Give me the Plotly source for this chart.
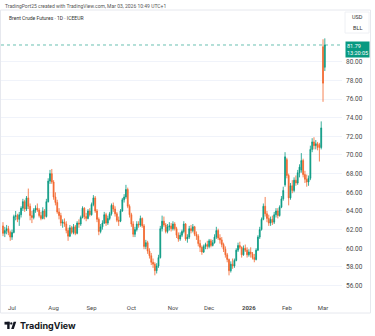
import pandas as pd
import plotly.graph_objects as go

# ---------------- data ----------------
dates = [d.strftime("%Y-%m-%d") for d in pd.bdate_range("2025-06-24", "2026-03-03")
         if d.strftime("%m-%d") not in ("12-25", "01-01")]

opens = [62.4, 61.6, 61.9, 62.1, 61.7, 61.2, 61.7, 63.4, 63.5, 63.1,
         63.6, 64.3, 65.0, 64.2, 65.4, 64.5, 63.5, 63.3, 64.1, 64.3,
         64.1, 63.5, 63.2, 64.0, 63.4, 65.0, 67.2, 68.0, 67.1, 65.5,
         64.9, 63.9, 63.5, 62.7, 62.8, 62.6, 61.9, 61.3, 62.2, 61.7,
         62.3, 61.6, 62.7, 62.6, 63.3, 64.3, 63.4, 63.2, 64.0, 63.6,
         64.7, 65.4, 64.0, 63.1, 61.8, 62.3, 62.7, 63.6, 62.7, 63.2,
         63.7, 64.6, 64.2, 63.7, 63.0, 62.9, 64.0, 65.2, 65.5, 66.3,
         64.5, 63.6, 62.6, 61.5, 62.0, 62.6, 62.5, 63.2, 62.4, 60.2,
         60.6, 59.7, 59.2, 58.5, 58.3, 57.6, 58.1, 59.0, 62.1, 62.9,
         62.5, 61.8, 62.3, 62.4, 62.1, 62.6, 62.1, 61.4, 61.0, 61.4,
         61.8, 62.6, 61.0, 61.2, 62.1, 61.9, 62.3, 61.5, 61.3, 60.5,
         60.1, 59.6, 60.2, 60.4, 60.2, 60.8, 60.3, 60.6, 61.2, 61.9,
         61.1, 60.9, 60.4, 59.9, 59.3, 58.8, 57.6, 58.3, 58.1, 58.7,
         59.8, 60.3, 60.1, 59.3, 60.0, 59.8, 59.3, 59.6, 59.4, 59.0,
         58.8, 59.8, 61.2, 62.0, 63.1, 64.5, 63.7, 63.2, 62.7, 63.1,
         62.8, 63.6, 64.0, 63.5, 64.4, 65.3, 66.8, 69.5, 67.8, 65.4,
         66.7, 66.2, 67.3, 67.0, 68.1, 68.4, 69.4, 67.9, 67.4, 67.1,
         67.5, 70.6, 71.4, 71.0, 71.2, 71.1, 70.8, 81.6, 79.4]

highs = [62.8, 62.3, 62.5, 62.4, 61.9, 62.0, 63.6, 64.0, 63.7, 63.9,
         64.5, 65.3, 65.2, 65.6, 66.4, 64.8, 64.0, 64.3, 64.6, 64.8,
         64.3, 63.9, 64.4, 64.2, 65.3, 67.5, 68.4, 68.5, 67.3, 66.0,
         65.2, 64.3, 63.8, 63.1, 63.2, 62.9, 62.2, 62.5, 62.4, 62.6,
         62.5, 62.9, 63.1, 63.5, 64.5, 64.4, 63.8, 64.2, 64.3, 64.9,
         65.7, 65.6, 64.2, 63.3, 62.6, 63.0, 63.9, 63.8, 63.5, 63.9,
         64.8, 64.9, 64.5, 63.9, 63.4, 64.2, 65.4, 65.8, 66.8, 66.5,
         64.7, 63.8, 62.9, 62.3, 62.9, 62.9, 63.5, 63.3, 62.6, 60.9,
         60.8, 60.0, 59.5, 58.9, 58.5, 58.4, 59.3, 62.4, 63.5, 63.4,
         62.7, 62.6, 62.8, 62.7, 62.9, 62.8, 62.3, 61.7, 61.7, 62.0,
         62.9, 62.7, 61.5, 62.4, 62.5, 62.6, 62.4, 61.8, 61.5, 60.9,
         60.3, 60.4, 60.6, 60.8, 61.0, 61.0, 60.9, 61.5, 62.3, 62.1,
         61.5, 61.2, 60.6, 60.2, 59.5, 58.9, 58.6, 58.9, 58.9, 60.0,
         60.6, 60.7, 60.2, 60.3, 60.4, 60.1, 59.9, 60.1, 59.6, 59.4,
         60.0, 61.4, 62.3, 63.3, 64.8, 65.5, 64.0, 63.6, 63.4, 63.5,
         63.9, 64.3, 64.3, 64.6, 65.6, 66.6, 70.3, 69.7, 68.0, 67.0,
         67.3, 67.6, 67.8, 68.4, 69.0, 70.2, 69.6, 68.3, 67.9, 67.8,
         71.0, 71.8, 71.9, 71.6, 71.4, 71.3, 73.6, 82.4, 82.5]

lows = [61.3, 61.2, 61.5, 61.4, 60.8, 60.9, 61.6, 63.0, 62.8, 62.4,
        63.3, 64.0, 63.9, 64.0, 64.2, 63.0, 62.7, 63.1, 63.8, 63.9,
        63.3, 63.0, 63.1, 63.1, 63.3, 64.9, 66.9, 66.9, 65.2, 64.6,
        63.7, 63.1, 62.4, 62.2, 62.3, 61.6, 60.8, 61.2, 61.5, 61.5,
        61.4, 61.5, 62.2, 62.4, 63.2, 63.1, 62.9, 63.1, 63.4, 63.5,
        64.5, 63.8, 62.8, 61.4, 61.6, 62.0, 62.6, 62.4, 62.5, 63.0,
        63.5, 63.9, 63.4, 62.8, 62.4, 62.8, 63.9, 64.9, 65.3, 64.3,
        63.3, 62.3, 61.2, 61.2, 61.8, 62.2, 62.3, 62.2, 59.9, 59.9,
        59.4, 58.9, 58.2, 57.9, 57.1, 57.3, 57.9, 58.9, 61.8, 62.3,
        61.6, 61.6, 61.9, 61.8, 61.9, 61.9, 61.1, 60.7, 60.8, 61.2,
        61.6, 60.8, 60.6, 61.0, 61.6, 61.7, 61.3, 60.9, 60.2, 59.6,
        59.3, 59.5, 59.9, 59.9, 60.0, 60.1, 60.2, 60.5, 61.0, 60.9,
        60.5, 60.1, 59.6, 59.0, 58.5, 57.1, 57.4, 57.8, 57.9, 58.6,
        59.6, 59.9, 59.0, 59.2, 59.6, 59.0, 59.1, 59.0, 58.8, 58.5,
        58.7, 59.7, 61.0, 61.9, 63.0, 63.4, 62.8, 62.4, 62.4, 62.5,
        62.6, 63.3, 63.2, 63.4, 64.3, 65.1, 66.6, 67.5, 64.6, 65.2,
        65.9, 66.0, 66.7, 66.8, 67.6, 68.1, 67.6, 67.0, 66.6, 66.7,
        67.3, 70.3, 70.6, 70.6, 70.5, 69.3, 70.6, 75.7, 79.0]

closes = [61.6, 61.9, 62.1, 61.7, 61.2, 61.7, 63.4, 63.5, 63.1, 63.6,
          64.3, 65.0, 64.2, 65.4, 64.5, 63.5, 63.3, 64.1, 64.3, 64.1,
          63.5, 63.2, 64.0, 63.4, 65.0, 67.2, 68.0, 67.1, 65.5, 64.9,
          63.9, 63.5, 62.7, 62.8, 62.6, 61.9, 61.3, 62.2, 61.7, 62.3,
          61.6, 62.7, 62.6, 63.3, 64.3, 63.4, 63.2, 64.0, 63.6, 64.7,
          65.4, 64.0, 63.1, 61.8, 62.3, 62.7, 63.6, 62.7, 63.2, 63.7,
          64.6, 64.2, 63.7, 63.0, 62.9, 64.0, 65.2, 65.5, 66.3, 64.5,
          63.6, 62.6, 61.5, 62.0, 62.6, 62.5, 63.2, 62.4, 60.2, 60.6,
          59.7, 59.2, 58.5, 58.3, 57.6, 58.1, 59.0, 62.1, 62.9, 62.5,
          61.8, 62.3, 62.4, 62.1, 62.6, 62.1, 61.4, 61.0, 61.4, 61.8,
          62.6, 61.0, 61.2, 62.1, 61.9, 62.3, 61.5, 61.3, 60.5, 60.1,
          59.6, 60.2, 60.4, 60.2, 60.8, 60.3, 60.6, 61.2, 61.9, 61.1,
          60.9, 60.4, 59.9, 59.3, 58.8, 57.6, 58.3, 58.1, 58.7, 59.8,
          60.3, 60.1, 59.3, 60.0, 59.8, 59.3, 59.6, 59.4, 59.0, 58.8,
          59.8, 61.2, 62.0, 63.1, 64.5, 63.7, 63.2, 62.7, 63.1, 62.8,
          63.6, 64.0, 63.5, 64.4, 65.3, 66.2, 69.8, 67.8, 65.4, 66.7,
          66.2, 67.3, 67.0, 68.1, 68.7, 69.4, 67.9, 67.4, 67.1, 67.5,
          70.6, 71.4, 71.0, 71.2, 70.8, 70.8, 72.9, 77.7, 81.79]

month_ticks = ["2025-07-01", "2025-08-01", "2025-09-01", "2025-10-01", "2025-11-03",
               "2025-12-01", "2026-01-02", "2026-02-02", "2026-03-02"]
month_labels = ["Jul", "Aug", "Sep", "Oct", "Nov", "Dec", "<b>2026</b>", "Feb", "Mar"]
price_ticks = [56, 58, 60, 62, 64, 66, 68, 70, 72, 74, 76, 78, 80]
last_price = closes[-1]

UP = "#089981"
DOWN = "#F3652B"
FONT = "Roboto"

# ---------------- geometry helpers (pixel -> paper) ----------------
W, H = 375, 336
L, R, T, B = 1, 33, 10, 38
PW, PH = W - L - R, H - T - B


def px(x):
    return (x - L) / PW


def py(y):
    return (H - B - y) / PH


fig = go.Figure(go.Candlestick(
    x=dates, open=opens, high=highs, low=lows, close=closes,
    increasing=dict(line=dict(color=UP, width=0.8), fillcolor=UP),
    decreasing=dict(line=dict(color=DOWN, width=0.8), fillcolor=DOWN),
    whiskerwidth=0, hoverinfo="skip", showlegend=False,
))

fig.update_layout(
    width=W, height=H,
    margin=dict(l=L, r=R, t=T, b=B),
    paper_bgcolor="white", plot_bgcolor="white",
    font=dict(family=FONT, color="#4a4a4a", size=6),
    xaxis=dict(type="category", rangeslider=dict(visible=False),
               range=[-1.1, 187.5], tickmode="array",
               tickvals=month_ticks, ticktext=month_labels,
               showgrid=False, zeroline=False, showline=False, ticks="",
               ticklabelstandoff=5,
               tickfont=dict(size=6, color="#4a4a4a")),
    yaxis=dict(side="right", range=[54.67, 85.54], tickmode="array",
               tickvals=price_ticks, ticktext=[f"{v:.2f}" for v in price_ticks],
               showgrid=True, gridcolor="#f0f3fa", gridwidth=1, zeroline=False,
               showline=False, ticks="", ticklabelstandoff=3,
               tickfont=dict(size=6.5, color="#4a4a4a")),
)

shapes = []
# chart frame
shapes.append(dict(type="rect", xref="paper", yref="paper",
                   x0=px(0.5), x1=px(370.5), y0=py(313), y1=py(10),
                   line=dict(color="#e6e8ee", width=1), fillcolor="rgba(0,0,0,0)"))
# last price line
shapes.append(dict(type="line", xref="paper", yref="y", x0=0, x1=1,
                   y0=last_price, y1=last_price,
                   line=dict(color=UP, width=1, dash="dot"), opacity=0.6))
# USD/BLL box
shapes.append(dict(type="rect", xref="paper", yref="paper",
                   x0=px(345), x1=px(369), y0=py(33), y1=py(12),
                   line=dict(color="#eef0f4", width=1), fillcolor="white"))
# TradingView logo mark
shapes.append(dict(type="rect", xref="paper", yref="paper",
                   x0=px(4.5), x1=px(9.6), y0=py(324.6), y1=py(321.8),
                   line=dict(width=0), fillcolor="#131722"))
shapes.append(dict(type="rect", xref="paper", yref="paper",
                   x0=px(7.2), x1=px(9.6), y0=py(329), y1=py(321.8),
                   line=dict(width=0), fillcolor="#131722"))
shapes.append(dict(type="circle", xref="paper", yref="paper",
                   x0=px(10.2), x1=px(12.4), y0=py(324.6), y1=py(322.2),
                   line=dict(width=0), fillcolor="#131722"))
shapes.append(dict(type="path", xref="paper", yref="paper",
                   path=(f"M {px(11.2)} {py(329)} L {px(13.6)} {py(321.8)} "
                         f"L {px(16.2)} {py(321.8)} L {px(13.8)} {py(329)} Z"),
                   line=dict(width=0), fillcolor="#131722"))
fig.update_layout(shapes=shapes)

ann = []
ann.append(dict(xref="paper", yref="paper", x=px(3), y=py(5.5), xanchor="left",
                yanchor="middle", showarrow=False,
                text="TradingPort25 created with TradingView.com, Mar 03, 2026 10:49 UTC+1",
                font=dict(size=5, color="#555555")))
ann.append(dict(xref="paper", yref="paper", x=px(7), y=py(18), xanchor="left",
                yanchor="middle", showarrow=False,
                text="Brent Crude Futures · 1D · ICEEUR",
                font=dict(size=5, color="#333333")))
ann.append(dict(xref="paper", yref="paper", x=px(357), y=py(17), xanchor="center",
                yanchor="middle", showarrow=False, text="USD",
                font=dict(size=5.5, color="#333333")))
ann.append(dict(xref="paper", yref="paper", x=px(357), y=py(28), xanchor="center",
                yanchor="middle", showarrow=False, text="BLL",
                font=dict(size=5.5, color="#333333")))
ann.append(dict(xref="paper", yref="y", x=px(344.5), y=last_price, xanchor="left",
                yanchor="top", yshift=4, showarrow=False,
                text=f"{last_price:.2f}<br>13:20:05", align="left",
                bgcolor=UP, borderpad=1,
                font=dict(size=5.5, color="white")))
ann.append(dict(xref="paper", yref="paper", x=px(18), y=py(325), xanchor="left",
                yanchor="middle", showarrow=False, text="<b>TradingView</b>",
                font=dict(size=9, color="#131722", family="Inter")))
fig.update_layout(annotations=ann)

fig.write_html("out.html")
